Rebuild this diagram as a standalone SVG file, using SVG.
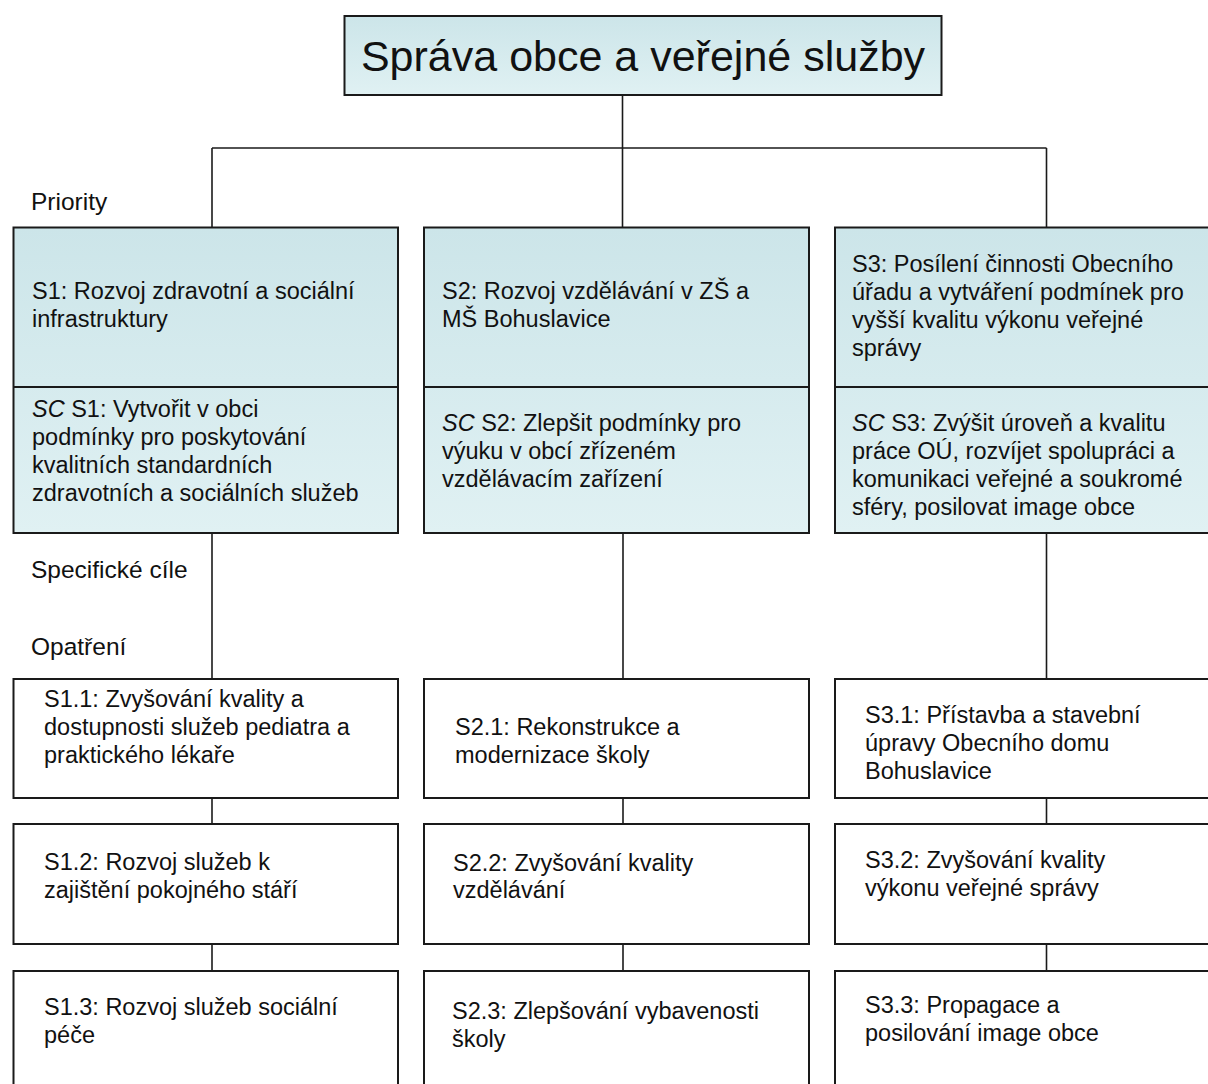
<svg xmlns="http://www.w3.org/2000/svg" width="1208" height="1084" viewBox="0 0 1208 1084">
  <defs>
    <linearGradient id="teal" x1="0" y1="0" x2="0" y2="1">
      <stop offset="0" stop-color="#cce5e9"/>
      <stop offset="1" stop-color="#e0f1f3"/>
    </linearGradient>
    <style>
      text { font-family: "Liberation Sans", "DejaVu Sans", sans-serif; font-size: 23.5px; fill: #111; }
      .title { font-size: 43px; }
      .label { font-size: 24.5px; }
      .box { stroke: #1a1a1a; stroke-width: 2; }
      .teal { fill: url(#teal); }
      .white { fill: #ffffff; }
      .conn line { stroke: #1a1a1a; stroke-width: 1.6; }
      .it { font-style: italic; }
    </style>
  </defs>
  <rect width="1208" height="1084" fill="#ffffff"/>

  <g id="connectors" class="conn">
    <line x1="622.5" y1="95" x2="622.5" y2="148"/>
    <line x1="212" y1="148" x2="1046.5" y2="148"/>
    <line x1="212" y1="148" x2="212" y2="228"/>
    <line x1="622.5" y1="148" x2="622.5" y2="228"/>
    <line x1="1046.5" y1="148" x2="1046.5" y2="228"/>
    <line x1="212" y1="533" x2="212" y2="679"/>
    <line x1="623" y1="533" x2="623" y2="679"/>
    <line x1="1046.5" y1="533" x2="1046.5" y2="679"/>
    <line x1="212" y1="798" x2="212" y2="824"/>
    <line x1="623" y1="798" x2="623" y2="824"/>
    <line x1="1046.5" y1="798" x2="1046.5" y2="824"/>
    <line x1="212" y1="944" x2="212" y2="971"/>
    <line x1="623" y1="944" x2="623" y2="971"/>
    <line x1="1046.5" y1="944" x2="1046.5" y2="971"/>
  </g>

  <g id="root">
    <rect class="box teal" x="344.5" y="16" width="597" height="79"/>
    <text class="title" x="643" y="71" text-anchor="middle">Správa obce a veřejné služby</text>
  </g>

  <g id="labels">
    <text class="label" x="31" y="210">Priority</text>
    <text class="label" x="31" y="578">Specifické cíle</text>
    <text class="label" x="31" y="655">Opatření</text>
  </g>

  <g id="S1">
    <rect class="box teal" x="13.5" y="227.5" width="384.5" height="305.5"/>
    <line class="box" x1="13.5" y1="387" x2="398" y2="387"/>
    <text x="32" y="299">S1: Rozvoj zdravotní a sociální</text>
    <text x="32" y="327">infrastruktury</text>
    <text x="32" y="417"><tspan class="it">SC</tspan> S1: Vytvořit v obci</text>
    <text x="32" y="445">podmínky pro poskytování</text>
    <text x="32" y="473">kvalitních standardních</text>
    <text x="32" y="501">zdravotních a sociálních služeb</text>
  </g>

  <g id="S2">
    <rect class="box teal" x="424" y="227.5" width="385" height="305.5"/>
    <line class="box" x1="424" y1="387" x2="809" y2="387"/>
    <text x="442" y="299">S2: Rozvoj vzdělávání v ZŠ a</text>
    <text x="442" y="327">MŠ Bohuslavice</text>
    <text x="442" y="431"><tspan class="it">SC</tspan> S2: Zlepšit podmínky pro</text>
    <text x="442" y="459">výuku v obcí zřízeném</text>
    <text x="442" y="487">vzdělávacím zařízení</text>
  </g>

  <g id="S3">
    <rect class="box teal" x="835" y="227.5" width="400" height="305.5"/>
    <line class="box" x1="835" y1="387" x2="1235" y2="387"/>
    <text x="852" y="272">S3: Posílení činnosti Obecního</text>
    <text x="852" y="300">úřadu a vytváření podmínek pro</text>
    <text x="852" y="328">vyšší kvalitu výkonu veřejné</text>
    <text x="852" y="356">správy</text>
    <text x="852" y="431"><tspan class="it">SC</tspan> S3: Zvýšit úroveň a kvalitu</text>
    <text x="852" y="459">práce OÚ, rozvíjet spolupráci a</text>
    <text x="852" y="487">komunikaci veřejné a soukromé</text>
    <text x="852" y="515">sféry, posilovat image obce</text>
  </g>

  <g id="S1-1">
    <rect class="box white" x="13.5" y="679" width="384.5" height="119"/>
    <text x="44" y="707">S1.1: Zvyšování kvality a</text>
    <text x="44" y="735">dostupnosti služeb pediatra a</text>
    <text x="44" y="763">praktického lékaře</text>
  </g>
  <g id="S2-1">
    <rect class="box white" x="424" y="679" width="385" height="119"/>
    <text x="455" y="735">S2.1: Rekonstrukce a</text>
    <text x="455" y="763">modernizace školy</text>
  </g>
  <g id="S3-1">
    <rect class="box white" x="835" y="679" width="400" height="119"/>
    <text x="865" y="723">S3.1: Přístavba a stavební</text>
    <text x="865" y="751">úpravy Obecního domu</text>
    <text x="865" y="779">Bohuslavice</text>
  </g>

  <g id="S1-2">
    <rect class="box white" x="13.5" y="824" width="384.5" height="120"/>
    <text x="44" y="870">S1.2: Rozvoj služeb k</text>
    <text x="44" y="898">zajištění pokojného stáří</text>
  </g>
  <g id="S2-2">
    <rect class="box white" x="424" y="824" width="385" height="120"/>
    <text x="453" y="871">S2.2: Zvyšování kvality</text>
    <text x="453" y="898">vzdělávání</text>
  </g>
  <g id="S3-2">
    <rect class="box white" x="835" y="824" width="400" height="120"/>
    <text x="865" y="868">S3.2: Zvyšování kvality</text>
    <text x="865" y="896">výkonu veřejné správy</text>
  </g>

  <g id="S1-3">
    <rect class="box white" x="13.5" y="971" width="384.5" height="130"/>
    <text x="44" y="1015">S1.3: Rozvoj služeb sociální</text>
    <text x="44" y="1043">péče</text>
  </g>
  <g id="S2-3">
    <rect class="box white" x="424" y="971" width="385" height="130"/>
    <text x="452" y="1019">S2.3: Zlepšování vybavenosti</text>
    <text x="452" y="1047">školy</text>
  </g>
  <g id="S3-3">
    <rect class="box white" x="835" y="971" width="400" height="130"/>
    <text x="865" y="1013">S3.3: Propagace a</text>
    <text x="865" y="1041">posilování image obce</text>
  </g>
</svg>
